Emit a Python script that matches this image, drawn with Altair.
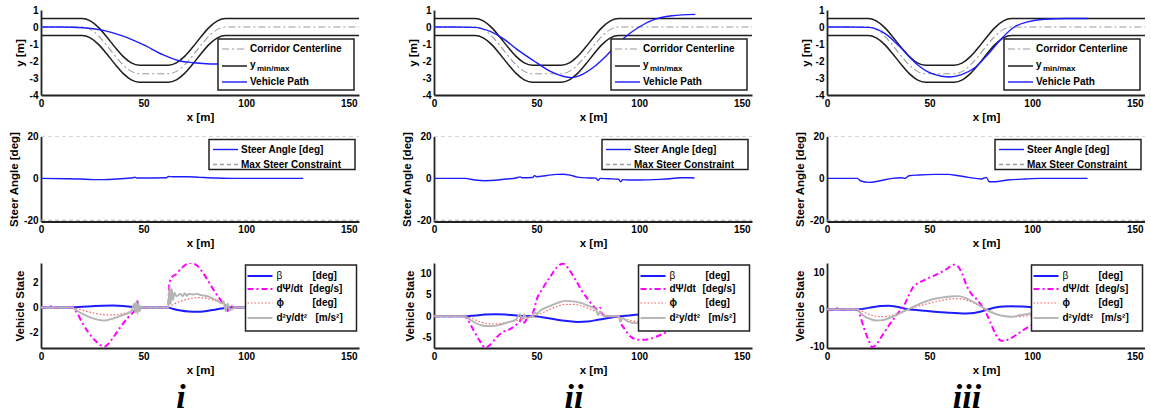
import altair as alt
import pandas as pd

FONT = "Liberation Sans"
SERIF = "Liberation Serif"

# ---------------- corridor (same in all three cases) ----------------
CORR_X = [0, 20, 24, 28, 32, 36, 40, 44, 48, 62, 66, 70, 74, 78, 82, 86, 90, 155]
CORR_CENTER = [0, 0, -0.14, -0.52, -1.07, -1.68, -2.23, -2.61, -2.75, -2.75, -2.61, -2.23, -1.68, -1.07, -0.52, -0.14, 0, 0]
CORR_YMAX = [0.5, 0.5, 0.36, -0.02, -0.57, -1.18, -1.73, -2.11, -2.25, -2.25, -2.11, -1.73, -1.18, -0.57, -0.02, 0.36, 0.5, 0.5]
CORR_YMIN = [-0.5, -0.5, -0.64, -1.02, -1.57, -2.18, -2.73, -3.11, -3.25, -3.25, -3.11, -2.73, -2.18, -1.57, -1.02, -0.64, -0.5, -0.5]

# ---------------- vehicle paths ----------------
PATH_I_X = [0, 10, 20.6, 30.4, 40.1, 49.8, 59.6, 67.7, 74.2, 80.7, 86.4, 95, 105, 115, 128]
PATH_I_Y = [0, 0, -0.04, -0.2, -0.54, -1.04, -1.64, -2.0, -2.1, -2.16, -2.18, -2.2, -2.2, -2.2, -2.2]
PATH_II_X = [0, 10, 19.4, 27.4, 33.9, 40.3, 50, 56.5, 62.9, 66.9, 71, 77.4, 83.9, 90.3, 95.2, 100, 106.5, 116, 127.4]
PATH_II_Y = [0, 0, -0.02, -0.26, -0.7, -1.3, -2.1, -2.6, -2.9, -2.98, -2.86, -2.4, -1.7, -0.9, -0.4, 0, 0.4, 0.66, 0.74]
PATH_III_X = [0, 10, 20.5, 28.5, 36.6, 43, 49.5, 55.9, 59.9, 65.6, 72, 78.5, 84.9, 91.3, 97.7, 105.8, 117, 127]
PATH_III_Y = [0, 0, -0.02, -0.4, -1.3, -2.1, -2.66, -2.9, -2.94, -2.8, -2.4, -1.6, -0.7, 0, 0.3, 0.46, 0.5, 0.5]

# ---------------- steer angle [deg] ----------------
STEER_MAX = [20, -20]
STEER_MAX_X = [0, 155]
STEER_I_X = [0, 12.5, 19, 25.5, 30.4, 36.8, 45, 45.8, 46.6, 61.2, 62, 64.4, 71, 77.4, 85.6, 93.7, 127.8]
STEER_I_Y = [0, -0.15, -0.3, -0.6, -0.6, -0.3, 0.3, 0.6, 0.15, 0.3, 0.9, 0.8, 0.8, 0.5, 0.15, 0, 0]
STEER_II_X = [0, 15, 20, 25, 30, 35, 40, 42, 43, 48, 49, 50, 55, 60, 63, 66, 70, 75, 79, 80, 81, 85, 90, 91, 92, 95, 100, 110, 115, 120, 124, 127]
STEER_II_Y = [0, 0, -0.8, -1.1, -0.9, -0.3, 0.2, 0.7, 0.3, 0.4, 1.3, 0.8, 1.4, 1.9, 2.0, 1.6, 0.6, 0.2, 0.1, -1.0, 0, -0.2, -0.4, -1.6, -0.6, -0.8, -0.8, -0.5, -0.2, 0.3, 0.3, 0.2]
STEER_III_X = [0, 14.8, 16.5, 20.5, 25.3, 31.8, 36.6, 38, 40, 44.7, 52.7, 59, 64, 68.9, 75.3, 77.7, 79, 81.8, 88.2, 96.3, 104, 127]
STEER_III_Y = [0, 0, -1.25, -1.9, -1.25, 0, 0.3, 0, 1.25, 1.6, 1.9, 1.9, 1.25, 0.5, -0.3, 0.5, -1.6, -1.6, -0.8, -0.3, 0, 0]

# ---------------- vehicle state, case i ----------------
BETA_I_X = [0, 15, 20, 25, 30, 35, 40, 44, 47, 62, 64, 68, 72, 76, 80, 84, 88, 92, 128]
BETA_I_Y = [0, 0, 0.05, 0.1, 0.14, 0.15, 0.12, 0.05, 0, 0, -0.1, -0.25, -0.33, -0.35, -0.3, -0.2, -0.08, 0, 0]
DPSI_I_X = [0, 4, 5, 6, 7, 15, 17, 20, 23, 26, 29, 31, 34, 37, 40, 43, 46, 47, 48, 50, 62, 62.5, 63, 64, 66, 68, 70, 73, 76, 79, 82, 85, 88, 90, 91, 92, 95, 128]
DPSI_I_Y = [0, 0, 0.1, -0.05, 0, 0, -0.3, -1.2, -2.0, -2.6, -3.05, -3.15, -2.7, -2.0, -1.3, -0.7, -0.1, 0.5, -0.2, 0, 0, 1.8, 2.2, 2.5, 2.7, 3.1, 3.4, 3.6, 3.4, 2.8, 2.0, 1.2, 0.5, 0.1, -0.3, 0.1, 0, 0]
PHI_I_X = [0, 15, 18, 22, 27, 32, 36, 40, 44, 47, 50, 62, 64, 68, 72, 76, 80, 84, 88, 91, 95, 128]
PHI_I_Y = [0, 0, -0.1, -0.3, -0.5, -0.6, -0.6, -0.5, -0.3, -0.1, 0, 0, 0.2, 0.5, 0.7, 0.8, 0.75, 0.6, 0.35, 0.1, 0, 0]
AY_I_X = [0, 15, 17, 20, 24, 28, 31, 35, 40, 44, 45.5, 46, 46.5, 47, 47.5, 48, 49, 50, 62, 62.7, 63.2, 63.7, 64.3, 65, 66, 68, 69, 70, 71, 72, 74, 76, 78, 80, 82, 84, 86, 88, 89, 90, 91, 92, 95, 128]
AY_I_Y = [0, 0, -0.2, -0.5, -0.8, -1.0, -1.05, -0.9, -0.6, -0.3, 0.3, -0.4, 0.5, -0.5, 0.3, -0.3, 0.1, 0, 0, 1.7, 0.3, 1.5, 0.6, 1.2, 0.9, 1.1, 0.9, 1.15, 0.95, 1.1, 1.05, 1.1, 1.0, 0.95, 0.85, 0.7, 0.55, 0.35, 0.5, -0.3, 0.3, -0.2, 0, 0]

# ---------------- vehicle state, case ii ----------------
BETA_II_X = [0, 15, 20, 25, 30, 35, 40, 45, 49, 55, 60, 65, 70, 75, 80, 85, 90, 95, 100, 105, 110, 115, 120, 127]
BETA_II_Y = [0, 0, 0.2, 0.4, 0.5, 0.4, 0.2, 0.05, 0, -0.4, -0.8, -1.1, -1.3, -1.2, -0.8, -0.4, -0.05, 0.2, 0.4, 0.45, 0.4, 0.3, 0.2, 0]
DPSI_II_X = [0, 15, 16, 19, 22, 25, 27, 30, 33, 37, 40, 42, 43, 44, 45, 47, 48, 49, 50, 53, 57, 60, 63, 66, 69, 72, 75, 78, 80, 81, 82, 84, 90, 91, 93, 96, 100, 104, 108, 112, 116, 120, 124, 127]
DPSI_II_Y = [0, 0, -0.5, -3, -5.5, -7.3, -6.8, -5.2, -3.8, -3.0, -2.0, -1.0, 0.3, -1.5, -0.8, 0, 0.5, 2.0, 3.8, 6.5, 9.5, 11.5, 12.3, 10.8, 8.5, 6.0, 4.0, 2.2, 1.5, 2.0, 0.5, 0, 0, -1.5, -3.0, -4.8, -5.5, -5.4, -4.8, -4.0, -3.0, -1.8, -0.6, 0]
PHI_II_X = [0, 15, 18, 22, 26, 30, 35, 40, 45, 49, 52, 56, 60, 64, 68, 72, 76, 80, 84, 88, 91, 95, 100, 105, 110, 115, 120, 127]
PHI_II_Y = [0, 0, -0.4, -1.2, -1.7, -1.8, -1.5, -1.0, -0.4, 0, 0.6, 1.5, 2.3, 2.8, 2.8, 2.4, 1.7, 0.9, 0.3, 0, -0.3, -0.9, -1.3, -1.4, -1.2, -0.9, -0.5, 0]
AY_II_X = [0, 15, 17, 20, 24, 28, 32, 36, 40, 42, 43, 44, 45, 48, 49, 50, 52, 56, 60, 64, 68, 72, 76, 79, 80, 81, 82, 85, 90, 91, 92, 94, 98, 102, 106, 110, 115, 120, 127]
AY_II_Y = [0, 0, -0.6, -1.5, -2.2, -2.3, -2.0, -1.4, -0.7, 0.5, -0.8, 0.4, -0.3, 0, 1.0, 0.6, 1.4, 2.3, 3.1, 3.6, 3.5, 3.1, 2.3, 1.5, 0.3, 1.2, 0.2, 0, 0, -1.2, -0.4, -1.1, -1.6, -1.7, -1.6, -1.4, -1.0, -0.6, 0]

# ---------------- vehicle state, case iii ----------------
BETA_III_X = [0, 15, 18, 22, 26, 30, 34, 38, 42, 48, 54, 60, 66, 70, 74, 78, 82, 86, 90, 95, 100, 110, 120, 127]
BETA_III_Y = [0, 0, 0.2, 0.6, 0.9, 1.0, 0.7, 0.2, -0.1, -0.4, -0.7, -0.9, -1.1, -1.05, -0.7, -0.1, 0.5, 0.8, 0.85, 0.75, 0.6, 0.4, 0.2, 0]
DPSI_III_X = [0, 4, 5, 6, 15, 16, 18, 20, 22, 24, 27, 30, 33, 36, 38, 40, 42, 44, 47, 50, 54, 58, 62, 64, 66, 68, 70, 73, 76, 78, 80, 82, 85, 88, 92, 96, 100, 105, 110, 115, 120, 127]
DPSI_III_Y = [0, 0, 0.3, 0, 0, -1.5, -5, -8, -10.2, -9.5, -7, -4.5, -2.2, 0, 1.5, 4, 6, 7, 7.8, 8.6, 9.6, 10.8, 12.1, 11.5, 9.5, 6.5, 4.5, 2.7, 0.5, -1.5, -4, -6.5, -8.5, -8.2, -7, -5.5, -4.2, -3, -1.8, -0.8, -0.3, 0]
PHI_III_X = [0, 15, 18, 22, 26, 30, 34, 38, 42, 46, 50, 55, 60, 64, 68, 72, 76, 80, 84, 88, 92, 96, 100, 110, 120, 127]
PHI_III_Y = [0, 0, -0.8, -1.6, -2.0, -1.8, -1.2, -0.4, 0.4, 1.1, 1.7, 2.3, 2.8, 2.9, 2.5, 1.6, 0.5, -0.6, -1.4, -1.9, -2.0, -1.8, -1.5, -0.8, -0.3, 0]
AY_III_X = [0, 15, 16, 18, 21, 24, 27, 30, 34, 38, 42, 46, 50, 55, 60, 64, 67, 70, 74, 78, 82, 86, 90, 94, 98, 104, 110, 120, 127]
AY_III_Y = [0, 0, -0.8, -1.8, -2.6, -3.0, -2.9, -2.4, -1.5, -0.4, 0.7, 1.7, 2.5, 3.1, 3.5, 3.6, 3.2, 2.4, 1.2, -0.2, -1.2, -1.8, -2.0, -1.6, -1.2, -0.8, -0.5, -0.2, 0]

# ---------------- panel settings ----------------
X_DOMAIN = [0, 155]
X_TICKS = [0, 50, 100, 150]
TOP_DOMAIN = [-4, 1]
TOP_TICKS = [-4, -3, -2, -1, 0, 1]
STEER_DOMAIN = [-20.6, 20]
STEER_TICKS = [-20, 0, 20]
STATE_DOMAINS = [[-3.28, 3.6], [-7.4, 12.45], [-10.45, 12.55]]
STATE_TICKS = [[-2, 0, 2], [-5, 0, 5, 10], [-10, 0, 10]]
CASE_LABELS = ["i", "ii", "iii"]

W = 318
H = 85

BLUE = "#1c1cff"
MAGENTA = "#ff00ff"
RED = "#ff5a5a"
GREY = "#b4b4b4"
CGREY = "#9a9a9a"
DARK = "#1e1e1e"

ONE = pd.DataFrame({"k": [0]})
LABEL_EXPR = "'' + datum.value"


def encs(ydomain, yticks, ytitle):
    xe = alt.X("x:Q", scale=alt.Scale(domain=X_DOMAIN, nice=False, zero=False),
               axis=alt.Axis(values=X_TICKS, title="x [m]", labelExpr=LABEL_EXPR))
    ye = alt.Y("y:Q", scale=alt.Scale(domain=ydomain, nice=False, zero=False),
               axis=alt.Axis(values=yticks, title=ytitle, labelExpr=LABEL_EXPR))
    return xe, ye


def line(xs, ys, xe, ye, color, width, dash=None):
    kw = dict(color=color, strokeWidth=width, clip=True, interpolate="monotone")
    if dash:
        kw["strokeDash"] = dash
    return alt.Chart(pd.DataFrame({"x": xs, "y": ys})).mark_line(**kw).encode(x=xe, y=ye)


def box(x1, x2, y1, y2):
    return alt.Chart(ONE).mark_rect(fill="white", stroke="#222222", strokeWidth=1.5).encode(
        x=alt.value(x1), x2=alt.value(x2), y=alt.value(y1), y2=alt.value(y2))


def sample(x1, x2, y, color, width, dash=None):
    kw = dict(color=color, strokeWidth=width)
    if dash:
        kw["strokeDash"] = dash
    return alt.Chart(ONE).mark_rule(**kw).encode(x=alt.value(x1), x2=alt.value(x2), y=alt.value(y))


def text(x, y, t, size=10, weight="bold", align="left"):
    return alt.Chart(ONE).mark_text(align=align, baseline="middle", font=FONT, fontSize=size,
                                    fontWeight=weight, color="black").encode(
        x=alt.value(x), y=alt.value(y), text=alt.value(t))


def top_panel(px, py):
    xe, ye = encs(TOP_DOMAIN, TOP_TICKS, "y [m]")
    layers = [
        line(CORR_X, CORR_CENTER, xe, ye, CGREY, 1.1, [7, 3, 2, 3]),
        line(CORR_X, CORR_YMAX, xe, ye, DARK, 1.5),
        line(CORR_X, CORR_YMIN, xe, ye, DARK, 1.5),
        line(px, py, xe, ye, BLUE, 1.4),
    ]
    b1, b2 = W - 5 - 136, W - 5
    rows = [39, 56, 72]
    layers += [
        box(b1, b2, 29, 80),
        sample(b1 + 4, b1 + 29, rows[0], CGREY, 1.1, [7, 3, 2, 3]),
        sample(b1 + 4, b1 + 29, rows[1], DARK, 1.5),
        sample(b1 + 4, b1 + 29, rows[2], BLUE, 1.4),
        text(b1 + 32, rows[0], "Corridor Centerline"),
        text(b1 + 32, rows[1] - 1, "y"),
        text(b1 + 39, rows[1] + 3, "min/max", size=8),
        text(b1 + 32, rows[2], "Vehicle Path"),
    ]
    return alt.layer(*layers).properties(width=W, height=H)


def steer_panel(sx, sy):
    xe, ye = encs(STEER_DOMAIN, STEER_TICKS, "Steer Angle [deg]")
    layers = [
        line(STEER_MAX_X, [STEER_MAX[0], STEER_MAX[0]], xe, ye, "#b0b0b0", 1.1, [4, 3]),
        line(STEER_MAX_X, [STEER_MAX[1], STEER_MAX[1]], xe, ye, "#b0b0b0", 1.1, [4, 3]),
        line(sx, sy, xe, ye, BLUE, 1.4),
    ]
    b1, b2 = W - 4 - 146, W - 4
    rows = [13, 28]
    layers += [
        box(b1, b2, 3, 33),
        sample(b1 + 4, b1 + 29, rows[0], BLUE, 1.4),
        sample(b1 + 4, b1 + 29, rows[1], "#a0a0a0", 1.4, [4, 3]),
        text(b1 + 32, rows[0], "Steer Angle [deg]"),
        text(b1 + 32, rows[1], "Max Steer Constraint"),
    ]
    return alt.layer(*layers).properties(width=W, height=H)


def state_panel(k, bx, by, dx, dy, fx, fy, ax, ay):
    xe, ye = encs(STATE_DOMAINS[k], STATE_TICKS[k], "Vehicle State")
    layers = [
        line(bx, by, xe, ye, BLUE, 2),
        line(dx, dy, xe, ye, MAGENTA, 2, [6, 3, 2, 3]),
        line(fx, fy, xe, ye, RED, 1.2, [1.5, 2]),
        line(ax, ay, xe, ye, GREY, 1.9),
    ]
    b1, b2 = W - 2.5 - 111, W - 2.5
    rows = [13, 26, 40, 55]
    layers += [
        box(b1, b2, 2, 68),
        sample(b1 + 2, b1 + 27, rows[0], BLUE, 2),
        sample(b1 + 2, b1 + 27, rows[1], MAGENTA, 2, [6, 3, 2, 3]),
        sample(b1 + 2, b1 + 27, rows[2], RED, 1.2, [1.5, 2]),
        sample(b1 + 2, b1 + 27, rows[3], GREY, 1.9),
        text(b1 + 31, rows[0], "β", weight="normal"),
        text(b1 + 31, rows[1], "dΨ/dt"),
        text(b1 + 31, rows[2], "ϕ"),
        text(b1 + 31, rows[3], "d²y/dt²"),
        text(b1 + 67, rows[0], "[deg]"),
        text(b1 + 64, rows[1], "[deg/s]"),
        text(b1 + 67, rows[2], "[deg]"),
        text(b1 + 70, rows[3], "[m/s²]"),
        alt.Chart(ONE).mark_text(align="center", baseline="alphabetic", font=SERIF, fontSize=34,
                                 fontStyle="italic", fontWeight="bold", color="black").encode(
            x=alt.value(140), y=alt.value(H + 60), text=alt.value(CASE_LABELS[k])),
    ]
    return alt.layer(*layers).properties(width=W, height=H)


panels = [
    top_panel(PATH_I_X, PATH_I_Y),
    top_panel(PATH_II_X, PATH_II_Y),
    top_panel(PATH_III_X, PATH_III_Y),
    steer_panel(STEER_I_X, STEER_I_Y),
    steer_panel(STEER_II_X, STEER_II_Y),
    steer_panel(STEER_III_X, STEER_III_Y),
    state_panel(0, BETA_I_X, BETA_I_Y, DPSI_I_X, DPSI_I_Y, PHI_I_X, PHI_I_Y, AY_I_X, AY_I_Y),
    state_panel(1, BETA_II_X, BETA_II_Y, DPSI_II_X, DPSI_II_Y, PHI_II_X, PHI_II_Y, AY_II_X, AY_II_Y),
    state_panel(2, BETA_III_X, BETA_III_Y, DPSI_III_X, DPSI_III_Y, PHI_III_X, PHI_III_Y, AY_III_X, AY_III_Y),
]

chart = alt.concat(*panels, columns=3).properties(
    spacing={"row": 41.5, "column": 75},
    bounds="flush",
    padding={"left": 8, "top": 5, "right": 0, "bottom": 0},
    background="white",
).configure_view(stroke=None).configure_axis(
    labelFont=FONT, labelFontSize=10, labelFontWeight="bold", labelColor="black",
    titleFont=FONT, titleFontSize=11.5, titleFontWeight="bold", titleColor="black",
    domainColor="#222222", domainWidth=1.8, ticks=False, grid=False,
    labelPadding=3, titlePadding=4, labelFlush=False,
).configure_axisX(titlePadding=3)

chart.save("out.html", embed_options={"renderer": "svg", "actions": False})
